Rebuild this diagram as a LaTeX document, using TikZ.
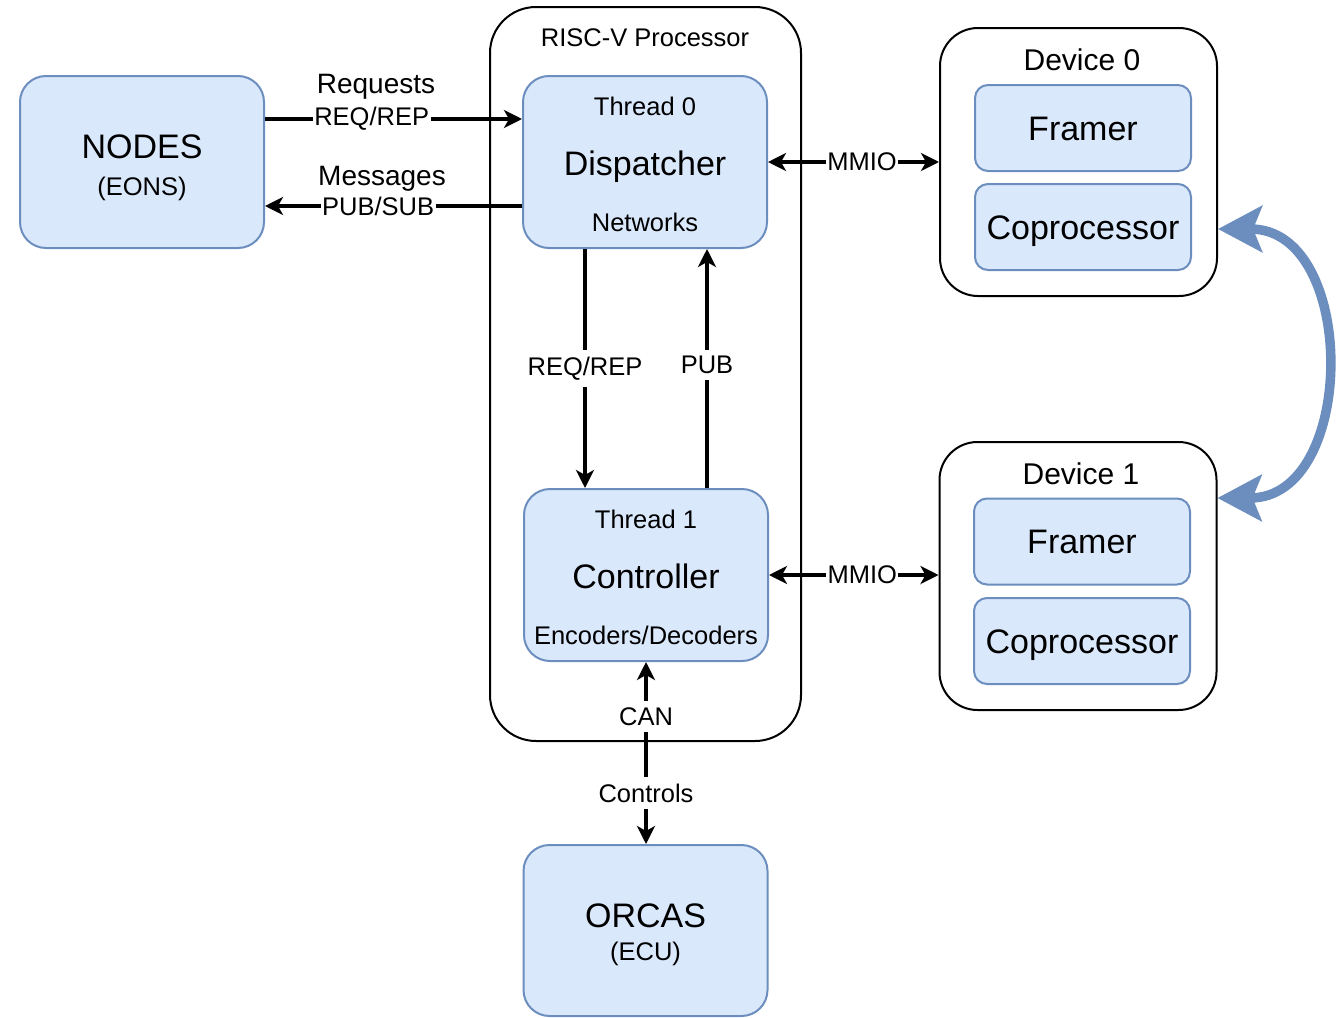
\documentclass[tikz,border=0pt]{standalone}
\usepackage{fontspec}
\setmainfont{Liberation Sans}
\usepackage{xcolor}
\usepackage{tikz}
\usetikzlibrary{arrows.meta}
\usetikzlibrary{calc}

\definecolor{boxfill}{HTML}{DAE8FC}
\definecolor{boxline}{HTML}{6C8EBF}
\newcommand{\smallfs}{\fontsize{25.5}{30}\selectfont}
\newcommand{\midfs}{\fontsize{28}{32}\selectfont}
\newcommand{\devfs}{\fontsize{30}{34}\selectfont}
\newcommand{\bigfs}{\fontsize{34}{38}\selectfont}

\begin{document}
\begin{tikzpicture}[x=1pt,y=-1pt,
	blk/.style={draw=boxline,fill=boxfill,line width=2pt,rounded corners=26pt,minimum width=244pt,minimum height=172pt,inner sep=0pt},
	part/.style={draw=boxline,fill=boxfill,line width=2pt,rounded corners=13pt,minimum width=216pt,minimum height=86pt,inner sep=0pt,font=\bigfs,text height=24pt,text depth=0pt},
	frame/.style={draw=black,line width=2pt,inner sep=0pt},
	txt/.style={inner sep=0pt,anchor=base},
	lbl/.style={fill=white,inner xsep=1.5pt,inner ysep=6.5pt,font=\smallfs},
	conn/.style={line width=3.5pt},
	>={Stealth[length=18pt,width=18pt,inset=5pt]},
	bigarrow/.style={draw=boxline,line width=9.5pt,{Stealth[length=44pt,width=46pt,inset=9pt]}-{Stealth[length=44pt,width=46pt,inset=9pt]}}]
\useasboundingbox (0,0) rectangle (1338,1017);

% processor
\node[frame,rounded corners=46pt,minimum width=311pt,minimum height=734pt] (proc) at (645.5,374) {};
\node[txt,font=\smallfs] (proct) at (645,46) {RISC-V Processor};

\node[blk] (nodes) at (142,162) {};
\node[txt,font=\bigfs] (nodesa) at (142,158) {NODES};
\node[txt,font=\smallfs] (nodesb) at (142,195) {(EONS)};

\node[blk] (disp) at (645,162) {};
\node[txt,font=\smallfs] (dispa) at (645,115) {Thread 0};
\node[txt,font=\bigfs] (dispb) at (645,175) {Dispatcher};
\node[txt,font=\smallfs] (dispc) at (645,231) {Networks};

\node[blk] (ctrl) at (646,575) {};
\node[txt,font=\smallfs] (ctrla) at (646,528) {Thread 1};
\node[txt,font=\bigfs] (ctrlb) at (646,588) {Controller};
\node[txt,font=\smallfs] (ctrlc) at (646,644) {Encoders/Decoders};

\node[blk,minimum height=171pt] (orcas) at (645.5,930.5) {};
\node[txt,font=\bigfs] (orcasa) at (645.5,927) {ORCAS};
\node[txt,font=\smallfs] (orcasb) at (645.5,960) {(ECU)};

% devices
\begin{scope}
	\node[frame,rounded corners=38pt,minimum width=277pt,minimum height=268pt] (dev0) at (1078.5,162) {};
	\node[txt,font=\devfs] (dev0t) at (1082,70) {Device 0};
	\node[part] (fr0) at (1083,128) {Framer};
	\node[part] (cp0) at (1083,227) {Coprocessor};
\end{scope}
\begin{scope}
	\node[frame,rounded corners=38pt,minimum width=277pt,minimum height=268pt] (dev1) at (1078,576) {};
	\node[txt,font=\devfs] (dev1t) at (1081,484) {Device 1};
	\node[part] (fr1) at (1082,541.5) {Framer};
	\node[part] (cp1) at (1082,641) {Coprocessor};
\end{scope}

% connectors
\draw[conn,->] ([yshift=43pt]nodes.east) -- ([yshift=43pt]disp.west) node[lbl,pos=0.415] (rq) {REQ/REP};
\node[txt,font=\midfs] (rqt) at (376,93) {Requests};
\draw[conn,->] ([yshift=-44pt]disp.west) -- ([yshift=-44pt]nodes.east) node[lbl,pos=0.56] (ps) {PUB/SUB};
\node[txt,font=\midfs] (pst) at (382,185) {Messages};

\draw[conn,<->] (disp.east) -- (dev0.west) node[lbl,pos=0.55] (mm0) {MMIO};
\draw[conn,<->] (ctrl.east) -- (ctrl.east -| dev1.west) node[lbl,pos=0.55] (mm1) {MMIO};

\draw[conn,->] ([xshift=-60pt]disp.south) -- ([xshift=-60pt]disp.south |- ctrl.north) node[lbl,pos=0.5] (rr) {REQ/REP};
\draw[conn,->] ([xshift=62pt]disp.south |- ctrl.north) -- ([xshift=62pt]disp.south) node[lbl,pos=0.515] (pb) {PUB};
\draw[conn,<->] (ctrl.south) -- (ctrl.south |- orcas.north) node[lbl,pos=0.3] (can) {CAN} node[lbl,pos=0.72] (ctl) {Controls};

\coordinate (c0) at ([yshift=-67pt]dev0.east);
\coordinate (c1) at ([yshift=78pt]dev1.east);
\draw[bigarrow] (c0) .. controls +(140,0) and +(140,0) .. (c1);
\end{tikzpicture}
\end{document}
